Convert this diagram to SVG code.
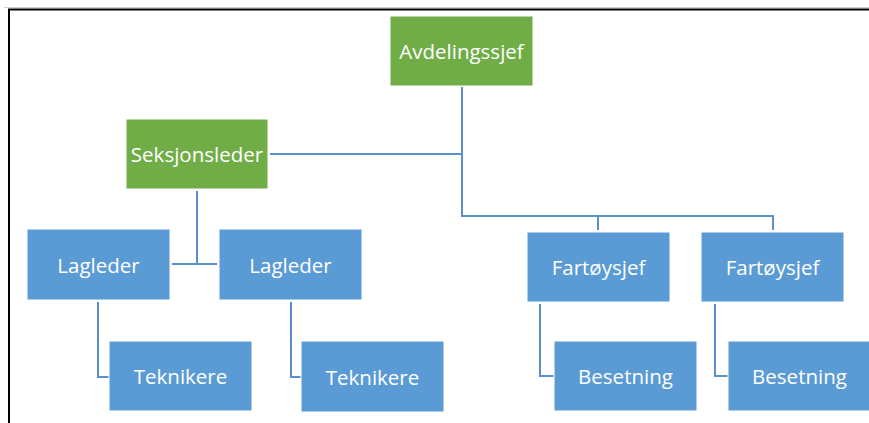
<svg xmlns="http://www.w3.org/2000/svg" width="869" height="423" viewBox="0 0 869 423">
<style>
.g{fill:#70AD47;stroke:#ffffff;stroke-width:1}
.b{fill:#5B9BD5;stroke:#ffffff;stroke-width:1}
.t{fill:#ffffff;font-family:"Open Sans","Liberation Sans",sans-serif;font-size:20.5px;text-anchor:middle;dominant-baseline:central}
.c{fill:none;stroke:#5B8FC9;stroke-width:2}
</style>
<rect width="869" height="423" fill="#ffffff"/>
<g id="frame">
<line x1="4" y1="7.5" x2="869" y2="7.5" stroke="#d0d0d0" stroke-width="1"/>
<polyline points="9,423 9,9.5 869,9.5" fill="none" stroke="#000000" stroke-width="2"/>
</g>
<g id="connectors">
<polyline class="c" points="462,87 462,216 773,216 773,230"/>
<line class="c" x1="598" y1="216" x2="598" y2="230"/>
<line class="c" x1="270" y1="154" x2="462" y2="154"/>
<line class="c" x1="197" y1="191" x2="197" y2="264"/>
<line class="c" x1="172" y1="264" x2="217" y2="264"/>
<polyline class="c" points="98,302 98,377 109,377"/>
<polyline class="c" points="291,302 291,377 301,377"/>
<polyline class="c" points="540,304 540,376 554,376"/>
<polyline class="c" points="715,304 715,376 728,376"/>
</g>
<g id="avdelingssjef"><rect class="g" x="390" y="16" width="143" height="70"/><text class="t" x="461.5" y="51">Avdelingssjef</text></g>
<g id="seksjonsleder"><rect class="g" x="126" y="119" width="142" height="70"/><text class="t" x="197" y="154">Seksjonsleder</text></g>
<g id="lagleder1"><rect class="b" x="27" y="229" width="143" height="71"/><text class="t" x="98.5" y="264.5">Lagleder</text></g>
<g id="lagleder2"><rect class="b" x="219" y="229" width="143" height="71"/><text class="t" x="290.5" y="264.5">Lagleder</text></g>
<g id="teknikere1"><rect class="b" x="109" y="341" width="143" height="70"/><text class="t" x="180.5" y="376">Teknikere</text></g>
<g id="teknikere2"><rect class="b" x="301" y="341" width="143" height="71"/><text class="t" x="372.5" y="376.5">Teknikere</text></g>
<g id="fartoysjef1"><rect class="b" x="527" y="232" width="143" height="70"/><text class="t" x="598.5" y="267">Fartøysjef</text></g>
<g id="fartoysjef2"><rect class="b" x="701" y="232" width="143" height="70"/><text class="t" x="772.5" y="267">Fartøysjef</text></g>
<g id="besetning1"><rect class="b" x="554" y="341" width="143" height="70"/><text class="t" x="625.5" y="376">Besetning</text></g>
<g id="besetning2"><rect class="b" x="728" y="341" width="143" height="70"/><text class="t" x="799.5" y="376">Besetning</text></g>
</svg>
